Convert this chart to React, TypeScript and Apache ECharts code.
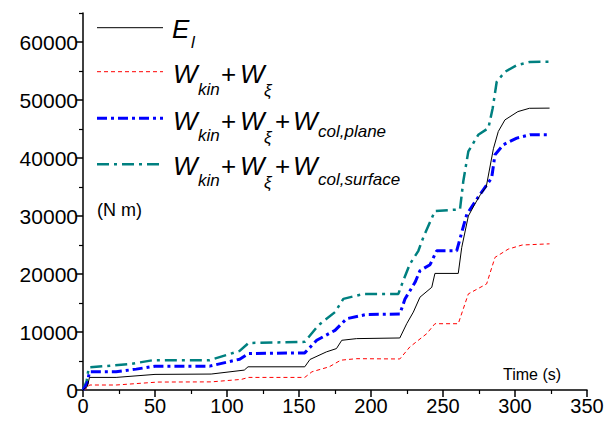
import React, { useEffect, useRef } from "react";
import * as echarts from "echarts";

// time (s), energy (N m)
const elTime = [0, 3, 4.5, 23, 50, 89, 112, 114.6, 154, 157.6, 169, 176, 179.7, 190, 220, 224.8, 229.4, 234, 242.2, 244.4, 260.6, 263, 267.6, 272, 276, 280, 285, 288.4, 293, 302, 310, 324];
const elValue = [0, 600, 2170, 2170, 2690, 2750, 3430, 4000, 4000, 5260, 6570, 7140, 8570, 8860, 8970, 11430, 13430, 16000, 17710, 20100, 20100, 24570, 30000, 32000, 33700, 35000, 41600, 44570, 46570, 48000, 48570, 48600];

const redTime = [0, 3, 4.5, 23, 52, 89, 110, 115, 154, 159, 171, 179, 190, 220, 227, 238.7, 244.4, 260.6, 267.6, 280.3, 286.1, 295.3, 305, 324];
const redValue = [0, 300, 860, 860, 1370, 1400, 1830, 2170, 2170, 3140, 4000, 5140, 5400, 5350, 7430, 9710, 11430, 11430, 16570, 18290, 22860, 24290, 25000, 25200];

const planeTime = [0, 3, 4.5, 23, 37, 50, 88, 108.8, 115, 154, 162.3, 175, 183.1, 197, 220, 223.6, 230.6, 234, 241, 245.6, 259.5, 266.5, 275.7, 283.8, 286.1, 291.9, 301.2, 310.4, 324];
const planeValue = [0, 1200, 3140, 3140, 3600, 4110, 4110, 5310, 6290, 6400, 8570, 10290, 12290, 13030, 13100, 15700, 18570, 20570, 21600, 24000, 24000, 30290, 33710, 36570, 40570, 42290, 43430, 44000, 44000];

const surfTime = [0, 2.5, 4, 32.4, 48.6, 88, 108.8, 115, 154, 163.4, 175, 180.8, 194.7, 219, 222.4, 227, 232.9, 236.3, 244.4, 261.8, 264.1, 267.6, 274.5, 281.5, 284.5, 287.3, 293, 301.2, 310.4, 324];
const surfValue = [0, 1500, 3890, 4460, 5140, 5140, 6740, 8110, 8300, 11140, 13430, 15710, 16570, 16570, 18860, 21710, 24000, 26290, 30860, 31140, 36000, 41140, 44000, 45140, 48570, 53140, 54860, 56000, 56570, 56600];

const yMajor = [0, 10000, 20000, 30000, 40000, 50000, 60000];
const yMinor = [5000, 15000, 25000, 35000, 45000, 55000, 65000];

const pairs = (t: number[], v: number[]) => t.map((x, i) => [x, v[i]]);

const FONT = "'Liberation Sans', Arial, sans-serif";

function txt(text: string, x: number, baseline: number, size: number, italic = true) {
  return {
    type: "text",
    x,
    y: baseline - 0.35 * size,
    silent: true,
    style: {
      text,
      font: `${italic ? "italic " : ""}${size}px ${FONT}`,
      fill: "#000",
      align: "left",
      verticalAlign: "middle",
    },
  };
}

function legLine(y: number, color: string, width: number, dash: any) {
  return {
    type: "line",
    silent: true,
    shape: { x1: 97, y1: y, x2: 163, y2: y },
    style: { stroke: color, lineWidth: width, lineDash: dash },
  };
}

export default function App() {
  const ref = useRef<HTMLDivElement>(null);
  useEffect(() => {
    if (!ref.current) return;
    const chart = echarts.init(ref.current, undefined, { renderer: "svg" });
    const M = 26;
    const S = 17;
    const graphics: any[] = [
      legLine(27.7, "#000", 1, null),
      txt("E", 172, 38.3, M),
      txt("l", 191, 48, 17),
      legLine(71.7, "#ff0000", 1, [4, 3]),
      txt("W", 173, 83.3, M),
      txt("kin", 198, 95, S),
      txt("+", 221, 83.3, M, false),
      txt("W", 240, 83.3, M),
      txt("ξ", 264, 96, S),
      legLine(118.3, "#0000ff", 3, [10, 4, 3, 4]),
      txt("W", 173, 130, M),
      txt("kin", 198, 141.7, S),
      txt("+", 221, 130, M, false),
      txt("W", 240, 130, M),
      txt("ξ", 264, 143, S),
      txt("+", 275, 130, M, false),
      txt("W", 293, 130, M),
      txt("col,plane", 318, 137, S),
      legLine(164.3, "#008080", 2.5, [12, 5, 3, 5]),
      txt("W", 173, 175, M),
      txt("kin", 198, 186.7, S),
      txt("+", 221, 175, M, false),
      txt("W", 240, 175, M),
      txt("ξ", 264, 188, S),
      txt("+", 275, 175, M, false),
      txt("W", 293, 175, M),
      txt("col,surface", 318, 185, S),
      txt("(N m)", 97, 216, 18, false),
      txt("Time (s)", 503, 380, 16, false),
    ];
    chart.setOption({
      animation: false,
      backgroundColor: "#fff",
      textStyle: { fontFamily: FONT },
      grid: { left: 83, right: 21, top: 13, bottom: 31, containLabel: false },
      xAxis: {
        type: "value",
        min: 0,
        max: 350,
        interval: 50,
        axisLine: { show: true, onZero: false, lineStyle: { color: "#000", width: 1.5 } },
        axisTick: { show: true, inside: false, length: 7, lineStyle: { color: "#000", width: 1.5 } },
        minorTick: { show: true, splitNumber: 2, length: 4, lineStyle: { color: "#000", width: 1.2 } },
        axisLabel: { color: "#000", fontSize: 20, fontFamily: FONT, margin: 6, formatter: (v: number) => String(v) },
        splitLine: { show: false },
      },
      yAxis: [
        {
          type: "value",
          min: 0,
          max: 65000,
          interval: 10000,
          axisLine: { show: true, onZero: false, lineStyle: { color: "#000", width: 1.5 } },
          axisTick: { show: true, inside: false, length: 7, customValues: yMajor, lineStyle: { color: "#000", width: 1.5 } },
          axisLabel: { color: "#000", fontSize: 21, fontFamily: FONT, margin: 5, customValues: yMajor, formatter: (v: number) => String(v) },
          splitLine: { show: false },
        },
        {
          type: "value",
          min: 0,
          max: 65000,
          position: "left",
          axisLine: { show: false },
          axisTick: { show: true, inside: false, length: 4, customValues: yMinor, lineStyle: { color: "#000", width: 1.2 } },
          axisLabel: { show: false },
          splitLine: { show: false },
        },
      ],
      series: [
        {
          type: "line",
          data: pairs(elTime, elValue),
          showSymbol: false,
          lineStyle: { color: "#000", width: 1 },
          z: 4,
        },
        {
          type: "line",
          data: pairs(redTime, redValue),
          showSymbol: false,
          lineStyle: { color: "#ff0000", width: 1, type: [4, 3] },
          z: 3,
        },
        {
          type: "line",
          data: pairs(planeTime, planeValue),
          showSymbol: false,
          lineStyle: { color: "#0000ff", width: 3, type: [10, 4, 3, 4] },
          z: 3,
        },
        {
          type: "line",
          data: pairs(surfTime, surfValue),
          showSymbol: false,
          lineStyle: { color: "#008080", width: 2.5, type: [12, 5, 3, 5] },
          z: 2,
        },
      ],
      graphic: graphics,
    });
    return () => chart.dispose();
  }, []);
  return (
    <div
      ref={ref}
      style={{ position: "fixed", left: 0, top: 0, width: 608, height: 421 }}
    />
  );
}
